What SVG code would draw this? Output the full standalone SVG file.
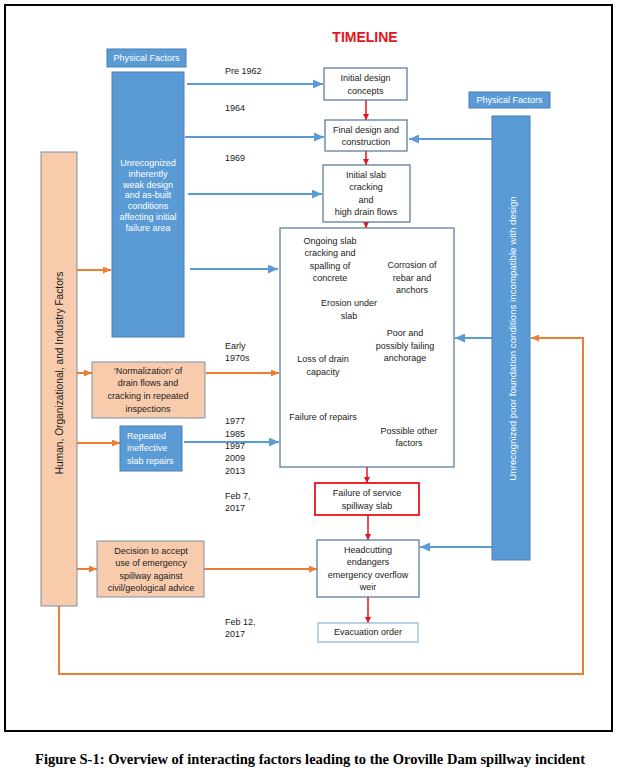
<svg xmlns="http://www.w3.org/2000/svg" width="620" height="778" viewBox="0 0 620 778">
<style>
text{font-family:"Liberation Sans",Arial,sans-serif;font-size:9px;fill:#1a1a1a}
.c{text-anchor:middle}
.w{fill:#ffffff}
.blue{fill:#5B9BD5;stroke:#4A7FB5;stroke-width:1}
.peach{fill:#F8CBAD;stroke:#7F8FA6;stroke-width:1}
.box{fill:#ffffff;stroke:#51749B;stroke-width:1.2}
.ba{stroke:#5B9BD5;stroke-width:2;fill:none;marker-end:url(#mb)}
.oa{stroke:#ED7D31;stroke-width:2;fill:none;marker-end:url(#mo)}
.ra{stroke:#E8121B;stroke-width:1.5;fill:none;marker-end:url(#mr)}
</style>
<defs>
<marker id="mb" markerUnits="userSpaceOnUse" markerWidth="10" markerHeight="9" refX="10" refY="4.5" orient="auto"><path d="M0,0 L10,4.5 L0,9 z" fill="#5B9BD5"/></marker>
<marker id="mo" markerUnits="userSpaceOnUse" markerWidth="8" markerHeight="7" refX="8" refY="3.5" orient="auto"><path d="M0,0 L8,3.5 L0,7 z" fill="#ED7D31"/></marker>
<marker id="mr" markerUnits="userSpaceOnUse" markerWidth="6" markerHeight="6" refX="6" refY="3" orient="auto"><path d="M0,0 L6,3 L0,6 z" fill="#E8121B"/></marker>
</defs>
<rect x="0" y="0" width="620" height="778" fill="#ffffff"/>
<rect x="5" y="5" width="607" height="726" fill="none" stroke="#000" stroke-width="2"/>
<text x="365" y="42" class="c" style="font-size:14px;font-weight:bold;fill:#E8121B">TIMELINE</text>

<g id="connectors">
<line class="ba" x1="187" y1="84" x2="323" y2="84"/>
<line class="ba" x1="185" y1="137" x2="324" y2="137"/>
<line class="ba" x1="188" y1="194" x2="322" y2="194"/>
<line class="ba" x1="190" y1="269" x2="278" y2="269"/>
<line class="ba" x1="184" y1="442" x2="279" y2="442"/>
<line class="ba" x1="492" y1="139" x2="409" y2="139"/>
<line class="ba" x1="492" y1="338" x2="455" y2="338"/>
<line class="ba" x1="492" y1="547" x2="420" y2="547"/>
<line class="oa" x1="77" y1="270" x2="111" y2="270"/>
<line class="oa" x1="77" y1="373" x2="92" y2="373"/>
<line class="oa" x1="206" y1="373" x2="279" y2="373"/>
<line class="oa" x1="77" y1="443" x2="120" y2="443"/>
<line class="oa" x1="77" y1="569" x2="97" y2="569"/>
<line class="oa" x1="204" y1="569" x2="317" y2="569"/>
<path class="oa" d="M59,606 L59,674 L583,674 L583,338 L531,338"/>
<line class="ra" x1="366" y1="100" x2="366" y2="120"/>
<line class="ra" x1="366" y1="151" x2="366" y2="165"/>
<line class="ra" x1="366" y1="222" x2="366" y2="228"/>
<line class="ra" x1="367" y1="467" x2="367" y2="483"/>
<line class="ra" x1="368" y1="515" x2="368" y2="540"/>
<line class="ra" x1="368" y1="597" x2="368" y2="623"/>
</g>

<g id="timeline-labels">
<text x="225" y="74">Pre 1962</text>
<text x="225" y="111">1964</text>
<text x="225" y="161">1969</text>
<text x="225" y="349">Early</text>
<text x="225" y="361">1970s</text>
<text x="225" y="424">1977</text>
<text x="225" y="436.5">1985</text>
<text x="225" y="449">1997</text>
<text x="225" y="461">2009</text>
<text x="225" y="474">2013</text>
<text x="225" y="499">Feb 7,</text>
<text x="225" y="511">2017</text>
<text x="225" y="625">Feb 12,</text>
<text x="225" y="637">2017</text>
</g>

<g id="physical-left-label">
<rect class="blue" x="107" y="49" width="79" height="18"/>
<text x="146.5" y="61" class="c w">Physical Factors</text>
</g>
<g id="physical-left">
<rect class="blue" x="112" y="72" width="72" height="265"/>
<text class="c w" x="148" y="166">Unrecognized</text>
<text class="c w" x="148" y="177">inherently</text>
<text class="c w" x="148" y="188">weak design</text>
<text class="c w" x="148" y="198">and as-built</text>
<text class="c w" x="148" y="209">conditions</text>
<text class="c w" x="148" y="220">affecting initial</text>
<text class="c w" x="148" y="231">failure area</text>
</g>

<g id="physical-right-label">
<rect class="blue" x="469" y="92" width="81" height="16"/>
<text x="509.5" y="103" class="c w">Physical Factors</text>
</g>
<g id="physical-right">
<rect class="blue" x="492" y="116" width="38" height="444"/>
<text class="c w" transform="rotate(-90 512 338.5)" x="512" y="342" style="font-size:9.7px">Unrecognized poor foundation conditions incompatible with design</text>
</g>

<g id="human-factors">
<rect class="peach" x="41" y="152" width="36" height="454"/>
<text class="c" transform="rotate(-90 59 373)" x="59" y="376.5" style="font-size:10.2px">Human, Organizational,  and Industry  Factors</text>
</g>

<g id="normalization">
<rect class="peach" x="92" y="362" width="113" height="56"/>
<text class="c" x="148" y="374">‘Normalization’ of</text>
<text class="c" x="148" y="386">drain flows and</text>
<text class="c" x="148" y="399">cracking in repeated</text>
<text class="c" x="148" y="412">inspections</text>
</g>

<g id="repairs">
<rect class="blue" x="120" y="426" width="62" height="45"/>
<text class="w" x="127" y="439">Repeated</text>
<text class="w" x="127" y="451">ineffective</text>
<text class="w" x="127" y="464">slab repairs</text>
</g>

<g id="decision">
<rect class="peach" x="97" y="541" width="107" height="56"/>
<text class="c" x="151" y="554">Decision to  accept</text>
<text class="c" x="151" y="566">use of emergency</text>
<text class="c" x="151" y="579">spillway against</text>
<text class="c" x="151" y="591">civil/geological advice</text>
</g>

<g id="initial-design">
<rect class="box" x="324" y="68" width="83" height="32"/>
<text class="c" x="365.5" y="81">Initial design</text>
<text class="c" x="365.5" y="94">concepts</text>
</g>
<g id="final-design">
<rect class="box" x="325" y="120" width="82" height="31"/>
<text class="c" x="366" y="133">Final design and</text>
<text class="c" x="366" y="145">construction</text>
</g>
<g id="initial-slab">
<rect class="box" x="323" y="165" width="87" height="57"/>
<text class="c" x="366" y="178">Initial slab</text>
<text class="c" x="366" y="190">cracking</text>
<text class="c" x="366" y="203">and</text>
<text class="c" x="366" y="215">high drain flows</text>
</g>
<g id="ongoing">
<rect class="box" x="280" y="228" width="174" height="239"/>
<text class="c" x="330" y="244">Ongoing slab</text>
<text class="c" x="330" y="256">cracking and</text>
<text class="c" x="330" y="269">spalling of</text>
<text class="c" x="330" y="281">concrete</text>
<text class="c" x="412" y="268">Corrosion of</text>
<text class="c" x="412" y="281">rebar and</text>
<text class="c" x="412" y="293">anchors</text>
<text class="c" x="349" y="306">Erosion under</text>
<text class="c" x="349" y="319">slab</text>
<text class="c" x="405" y="336">Poor and</text>
<text class="c" x="405" y="349">possibly failing</text>
<text class="c" x="405" y="361">anchorage</text>
<text class="c" x="323" y="362">Loss of drain</text>
<text class="c" x="323" y="375">capacity</text>
<text class="c" x="323" y="420">Failure of repairs</text>
<text class="c" x="409" y="434">Possible other</text>
<text class="c" x="409" y="446">factors</text>
</g>
<g id="failure">
<rect x="315" y="483" width="104" height="32" fill="#fff" stroke="#E8121B" stroke-width="1.8"/>
<text class="c" x="367" y="496">Failure of service</text>
<text class="c" x="367" y="509">spillway  slab</text>
</g>
<g id="headcutting">
<rect class="box" x="317" y="540" width="102" height="57"/>
<text class="c" x="368" y="553">Headcutting</text>
<text class="c" x="368" y="565">endangers</text>
<text class="c" x="368" y="578">emergency overflow</text>
<text class="c" x="368" y="590">weir</text>
</g>
<g id="evacuation">
<rect x="318" y="623" width="100" height="19" fill="#fff" stroke="#8DB3D9" stroke-width="1.2"/>
<text class="c" x="368" y="635">Evacuation order</text>
</g>

<text x="310" y="764" class="c" textLength="550" lengthAdjust="spacingAndGlyphs" style="font-family:'Liberation Serif','Times New Roman',serif;font-size:14px;font-weight:bold;fill:#000">Figure S-1: Overview of interacting factors leading to the Oroville Dam spillway incident</text>
</svg>
